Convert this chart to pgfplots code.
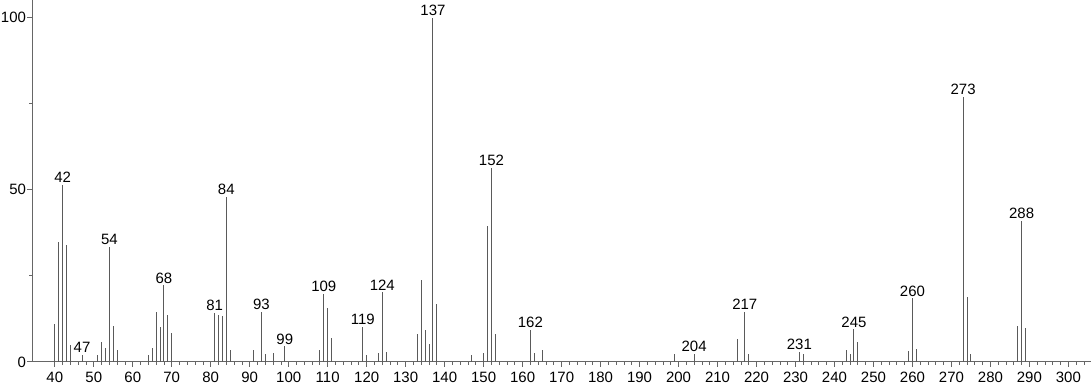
\documentclass[border=0pt]{standalone}
\usepackage{fontspec}
\setmainfont{Liberation Sans}
\usepackage{pgfplots}
\pgfplotsset{compat=1.18}
\definecolor{barc}{HTML}{5a5a5a}
\definecolor{axc}{HTML}{666666}
\begin{document}
\fontsize{15}{17}\selectfont
\begin{tikzpicture}
\begin{axis}[
  scale only axis,
  width=1060pt, height=362pt,
  xmin=34.2, xmax=305.7, ymin=0, ymax=105,
  axis x line=bottom, axis y line=left,
  axis line style={-, axc, line width=0.8pt},
  tick style={axc, line width=0.8pt},
  tick align=outside,
  xtick={40,50,...,300},
  minor xtick={42,44,...,48,52,54,...,58,62,64,...,68,72,74,...,78,82,84,...,88,92,94,...,98,102,104,...,108,112,114,...,118,122,124,...,128,132,134,...,138,142,144,...,148,152,154,...,158,162,164,...,168,172,174,...,178,182,184,...,188,192,194,...,198,202,204,...,208,212,214,...,218,222,224,...,228,232,234,...,238,242,244,...,248,252,254,...,258,262,264,...,268,272,274,...,278,282,284,...,288,292,294,...,298,302,304},
  ytick={0,50,100}, minor ytick={25,75},
  major tick length=5pt, minor tick length=3pt,
  /pgf/number format/assume math mode=true,
  ticklabel style={font=\fontsize{15}{17}\selectfont, black},
  xticklabel style={inner sep=2pt, yshift=-3pt},
  yticklabel style={inner sep=1pt},
  clip=false,
]
\addplot+[ycomb, no marks, barc, line width=1pt] coordinates {
(40,11.1)(41,34.8)(43,34.0)(44,4.9)(51,2.1)(52,5.8)(53,4.1)(55,10.5)(56,3.3)
(64,2.1)(65,4.1)(66,14.6)(67,10.2)(69,13.7)(70,8.3)
(82,13.6)(83,13.4)(85,3.5)(91,3.3)(94,2.3)(96,2.6)
(108,3.5)(110,15.7)(111,7.0)(120,2.1)(123,2.5)(125,3.0)
(133,8.0)(134,23.9)(135,9.3)(136,5.3)(138,16.7)
(147,2.1)(150,2.5)(151,39.5)(153,8.0)(163,2.5)(165,3.5)
(199,2.2)(215,6.5)(218,2.4)(232,2.4)
(243,3.5)(244,2.2)(246,5.8)(259,3.1)(261,3.8)
(274,18.7)(275,2.2)(287,10.3)(289,9.8)
};
\addplot+[ycomb, no marks, barc, line width=1pt,
  point meta=x, nodes near coords,
  nodes near coords style={font=\fontsize{15}{17}\selectfont, black, anchor=south, inner sep=1.5pt,
    /pgf/number format/.cd, fixed, precision=0, assume math mode=true}] coordinates {
(42,51.4)(47,2.0)(54,33.5)(68,22.2)(81,14.3)(84,48.0)(93,14.6)(99,4.5)
(109,19.7)(119,10.1)(124,20.2)(137,100)(152,56.4)(162,9.3)
(204,2.4)(217,14.6)(231,3.0)(245,9.5)(260,18.5)(273,77.0)(288,41.0)
};
\end{axis}
\end{tikzpicture}
\end{document}
